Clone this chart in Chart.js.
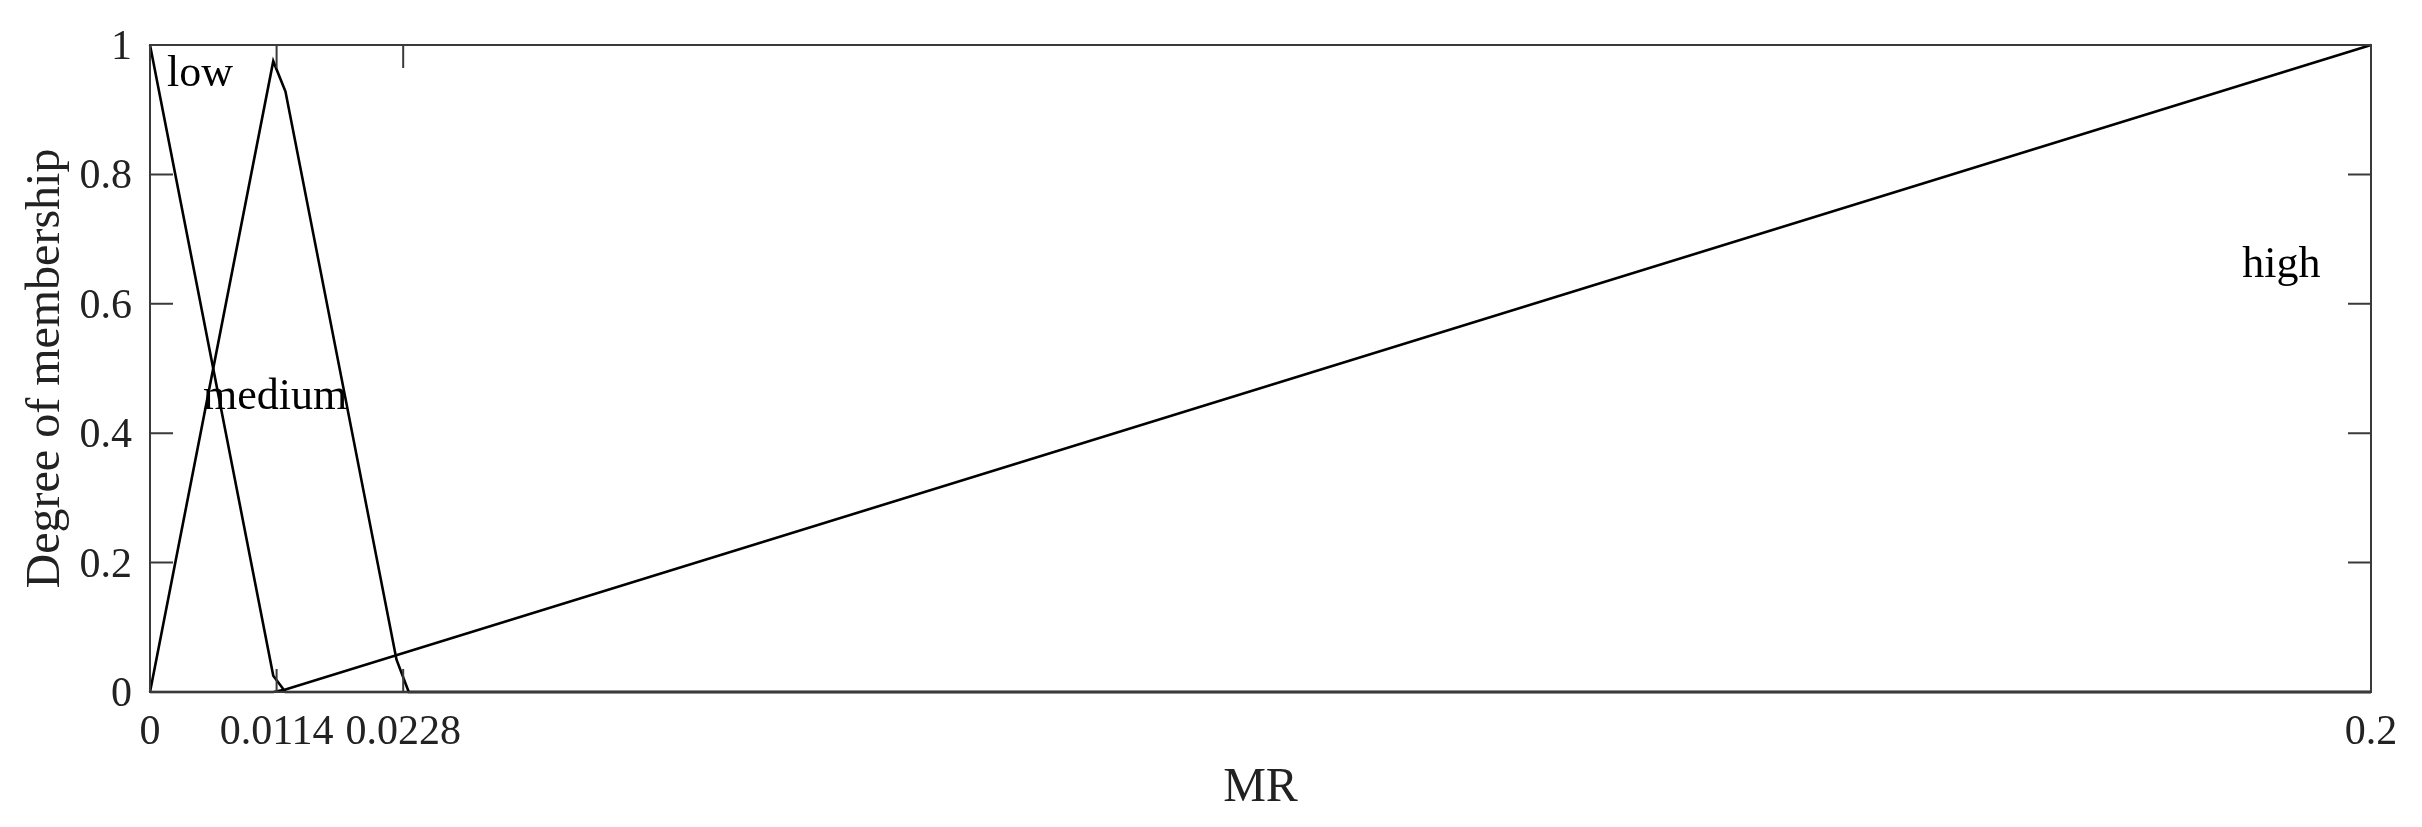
<!DOCTYPE html>
<html>
<head>
<meta charset="utf-8">
<script src="https://cdn.jsdelivr.net/npm/chart.js@4"></script>
<style>
  body { margin: 0; background: #fff; }
  #wrap { width: 2422px; height: 827px; }
</style>
</head>
<body>
<div id="wrap"><canvas id="mfPlot"></canvas></div>
<script>
// membership functions (MR, degree)
const lowMR = [0, 0.0111, 0.0122, 0.2];
const lowDegree = [1, 0.025, 0, 0];

const mediumMR = [0, 0.0111, 0.0122, 0.0222, 0.0233, 0.2];
const mediumDegree = [0, 0.975, 0.928, 0.05, 0, 0];

const highMR = [0, 0.0111, 0.0122, 0.2];
const highDegree = [0, 0, 0.004, 1];

const xTicks = [0, 0.0114, 0.0228, 0.2];
const xTickLabels = ["0", "0.0114", "0.0228", "0.2"];
const yTicks = [0, 0.2, 0.4, 0.6, 0.8, 1];
const yTickLabels = ["0", "0.2", "0.4", "0.6", "0.8", "1"];

// curve names, anchored at the left baseline (data units)
const mfNames = ["low", "medium", "high"];
const mfNameX = [0.00153, 0.00477, 0.1884];
const mfNameY = [0.937, 0.437, 0.641];

const serif = "'Liberation Serif', 'Times New Roman', serif";
const boxColor = "#3a3a3a";

const toPoints = (xs, ys) => xs.map((x, i) => ({ x: x, y: ys[i] }));

const lineStyle = {
  borderColor: "#000",
  borderWidth: 2.6,
  pointRadius: 0,
  showLine: true,
  fill: false,
  tension: 0,
  clip: false,
};

// box + inward tick marks on all four sides, plus the curve names
const frame = {
  id: "frame",
  afterDraw(chart) {
    const { ctx, chartArea: a, scales } = chart;
    const len = 23;
    ctx.save();
    ctx.strokeStyle = boxColor;
    ctx.lineWidth = 2;
    ctx.strokeRect(a.left, a.top, a.right - a.left, a.bottom - a.top);
    ctx.beginPath();
    xTicks.forEach(v => {
      const px = scales.x.getPixelForValue(v);
      ctx.moveTo(px, a.bottom); ctx.lineTo(px, a.bottom - len);
      ctx.moveTo(px, a.top); ctx.lineTo(px, a.top + len);
    });
    yTicks.forEach(v => {
      const py = scales.y.getPixelForValue(v);
      ctx.moveTo(a.left, py); ctx.lineTo(a.left + len, py);
      ctx.moveTo(a.right, py); ctx.lineTo(a.right - len, py);
    });
    ctx.stroke();

    ctx.fillStyle = "#000";
    ctx.font = "44px " + serif;
    ctx.textAlign = "left";
    ctx.textBaseline = "alphabetic";
    mfNames.forEach((name, i) => {
      ctx.fillText(name, scales.x.getPixelForValue(mfNameX[i]), scales.y.getPixelForValue(mfNameY[i]));
    });
    ctx.restore();
  }
};

new Chart(document.getElementById("mfPlot"), {
  type: "scatter",
  data: {
    datasets: [
      { label: "low", data: toPoints(lowMR, lowDegree), ...lineStyle },
      { label: "medium", data: toPoints(mediumMR, mediumDegree), ...lineStyle },
      { label: "high", data: toPoints(highMR, highDegree), ...lineStyle },
    ],
  },
  options: {
    responsive: true,
    maintainAspectRatio: false,
    animation: false,
    layout: { padding: { left: 0, right: 51, top: 45, bottom: 0 } },
    plugins: {
      legend: { display: false },
      tooltip: { enabled: false },
    },
    scales: {
      x: {
        type: "linear",
        min: 0,
        max: 0.2,
        afterBuildTicks: s => { s.ticks = xTicks.map(v => ({ value: v })); },
        afterFit: s => { s.height = 135; },
        grid: { display: false, drawTicks: false, tickLength: 0 },
        border: { display: false },
        ticks: {
          autoSkip: false,
          maxRotation: 0,
          padding: 16,
          color: "#222",
          font: { family: serif, size: 42 },
          callback: (v, i) => xTickLabels[i],
        },
        title: {
          display: true,
          text: "MR",
          color: "#222",
          font: { family: serif, size: 48 },
          padding: { top: 0, bottom: 10 },
        },
      },
      y: {
        min: 0,
        max: 1,
        afterBuildTicks: s => { s.ticks = yTicks.map(v => ({ value: v })); },
        afterFit: s => { s.width = 150; },
        grid: { display: false, drawTicks: false, tickLength: 0 },
        border: { display: false },
        ticks: {
          padding: 18,
          labelOffset: 3,
          color: "#222",
          font: { family: serif, size: 42 },
          callback: (v, i) => yTickLabels[i],
        },
        title: {
          display: true,
          text: "Degree of membership",
          color: "#222",
          font: { family: serif, size: 48 },
          padding: { top: 18, bottom: 0 },
        },
      },
    },
  },
  plugins: [frame],
});
</script>
</body>
</html>
